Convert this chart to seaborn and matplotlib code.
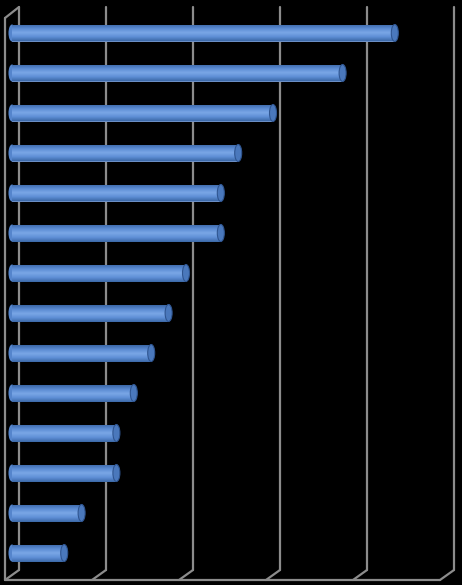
# ============================================================
# IMPORT LIBRARIES
# ============================================================

import numpy as np
import pandas as pd
import matplotlib
matplotlib.use("Agg")
import matplotlib.pyplot as plt
import seaborn as sns
from matplotlib.patches import Ellipse
from matplotlib.colors import LinearSegmentedColormap

# ============================================================
# DATA
# ============================================================

categories = ["c1", "c2", "c3", "c4", "c5", "c6", "c7",
              "c8", "c9", "c10", "c11", "c12", "c13", "c14"]

values = [4.4, 3.8, 3.0, 2.6, 2.4, 2.4, 2.0,
          1.8, 1.6, 1.4, 1.2, 1.2, 0.8, 0.6]

grid_ticks = [0, 1, 2, 3, 4, 5]

df = pd.DataFrame({"cat": categories, "val": values})

# ============================================================
# FIGURE
# ============================================================

sns.set_style("white")

W, H = 462, 585
fig = plt.figure(figsize=(W / 100, H / 100), dpi=100, facecolor="black")
ax = fig.add_axes([0, 0, 1, 1])
ax.set_facecolor("black")

# pixel mapping: x_px = 12 + 87 * v ; y_px = 33 + 40 * i
UX = 87.0
UY = 40.0
ax.set_xlim(-12 / UX, (W - 12) / UX)
ax.set_ylim((H - 33) / UY, -33 / UY)

def px(dx):
    return dx / UX

def py(dy):
    return dy / UY

# ============================================================
# 3D FRAME (walls + floor)
# ============================================================

grid_col = "#8c8c8c"
lw = 1.6
back_dx, front_dx = px(7), px(-7)
top_back, bot_back = py(7 - 33), py(570 - 33)
top_front, bot_front = py(18 - 33), py(580 - 33)

for k in grid_ticks:
    # vertical line on back wall
    ax.plot([k + back_dx, k + back_dx], [top_back, bot_back],
            color=grid_col, lw=lw, zorder=1)
    # floor depth line
    ax.plot([k + front_dx, k + back_dx], [bot_front, bot_back],
            color=grid_col, lw=lw, zorder=1)

# floor front edge
ax.plot([grid_ticks[0] + front_dx, grid_ticks[-1] + front_dx],
        [bot_front, bot_front], color=grid_col, lw=lw, zorder=1)

# left side wall
x0 = grid_ticks[0]
ax.plot([x0 + front_dx, x0 + front_dx], [top_front, bot_front],
        color=grid_col, lw=lw, zorder=1)
ax.plot([x0 + front_dx, x0 + back_dx], [top_front, top_back],
        color=grid_col, lw=lw, zorder=1)

# ============================================================
# BARS
# ============================================================

sns.barplot(data=df, x="val", y="cat", orient="h", width=py(17),
            color="#5b8bd4", edgecolor="none", ax=ax, zorder=3)

cmap = LinearSegmentedColormap.from_list(
    "cyl", ["#3b67a6", "#5a8ad2", "#7aa7e6", "#5f8fd6", "#3c69a8"])
grad = np.linspace(0, 1, 64).reshape(-1, 1)

cap_w = px(7)
for patch in list(ax.patches):
    x, y = patch.get_x(), patch.get_y()
    w, h = patch.get_width(), patch.get_height()
    im = ax.imshow(grad, cmap=cmap, aspect="auto",
                   extent=[x, x + w, y + h, y], zorder=4)
    im.set_clip_path(patch)
    # left rounded end
    ax.add_patch(Ellipse((x, y + h / 2), cap_w, h, facecolor="#5585cc",
                         edgecolor="none", zorder=3.5))
    # right end cap
    ax.add_patch(Ellipse((x + w, y + h / 2), cap_w, h, facecolor="#4a78bc",
                         edgecolor="#2f5590", lw=0.8, zorder=5))

ax.set_xlim(-12 / UX, (W - 12) / UX)
ax.set_ylim((H - 33) / UY, -33 / UY)
ax.axis("off")

fig.savefig("out.png", dpi=100, facecolor="black")
